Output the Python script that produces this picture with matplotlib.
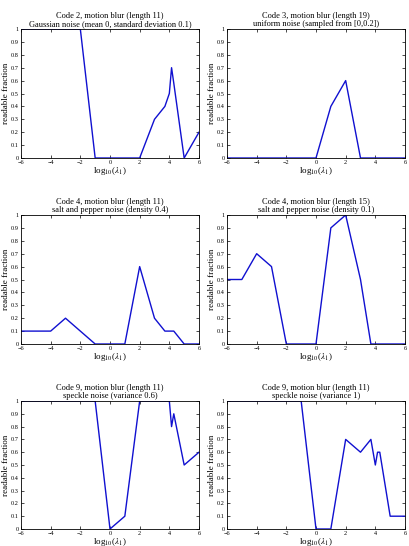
import matplotlib
matplotlib.use('Agg')
import matplotlib.pyplot as plt
import numpy as np

plt.rcParams['font.family'] = ['Liberation Serif', 'DejaVu Serif']
plt.rcParams['mathtext.fontset'] = 'stix'

# log10(lambda_1) sample points
x = [-6, -5, -4, -3, -2, -1, 0, 1, 2, 3, 3.7, 4, 4.15, 4.3, 5, 6]

titles = [
    'Code 2, motion blur (length 11)\nGaussian noise (mean 0, standard deviation 0.1)',
    'Code 3, motion blur (length 19)\nuniform noise (sampled from [0,0.2])',
    'Code 4, motion blur (length 11)\nsalt and pepper noise (density 0.4)',
    'Code 4, motion blur (length 15)\nsalt and pepper noise (density 0.1)',
    'Code 9, motion blur (length 11)\nspeckle noise (variance 0.6)',
    'Code 9, motion blur (length 11)\nspeckle noise (variance 1)',
]

code2_gauss = [1, 1, 1, 1, 1, 0, 0, 0, 0, 0.3, 0.4, 0.5, 0.7, 0.58, 0, 0.2]
code3_unif = [0, 0, 0, 0, 0, 0, 0, 0.4, 0.6, 0, 0, 0, 0, 0, 0, 0]
code4_sp04 = [0.1, 0.1, 0.1, 0.2, 0.1, 0, 0, 0, 0.6, 0.2, 0.1, 0.1, 0.1, 0.1, 0, 0]
code4_sp01 = [0.5, 0.5, 0.7, 0.6, 0, 0, 0, 0.9, 1, 0.5, 0, 0, 0, 0, 0, 0]
code9_sp06 = [1, 1, 1, 1, 1, 1, 0, 0.1, 1, 1, 1, 1, 0.8, 0.9, 0.5, 0.6]
code9_sp1 = [1, 1, 1, 1, 1, 1, 0, 0, 0.7, 0.6, 0.7, 0.5, 0.6, 0.6, 0.1, 0.1]

series = [code2_gauss, code3_unif, code4_sp04, code4_sp01, code9_sp06, code9_sp1]

W, H = 410, 546
fig = plt.figure(figsize=(W / 100, H / 100), dpi=100)

# axes boxes in pixels: left, top, right, bottom
cols = [(21, 199), (227, 405)]
rows = [(29, 158), (215, 344), (401, 529)]

for i in range(6):
    r, c = i // 2, i % 2
    l, rt = cols[c]
    t, b = rows[r]
    ax = fig.add_axes([l / W, 1 - b / H, (rt - l) / W, (b - t) / H])
    ax.plot(x, series[i], color='#1010d0', lw=1.0)
    ax.set_xlim(-6, 6)
    ax.set_ylim(0, 1)
    ax.set_xticks(np.arange(-6, 7, 2))
    ax.set_yticks(np.arange(0, 1.01, 0.1))
    ax.set_yticklabels(['0', '0.1', '0.2', '0.3', '0.4', '0.5', '0.6', '0.7', '0.8', '0.9', '1'])
    ax.tick_params(direction='in', top=True, right=True, length=2, width=0.5,
                   labelsize=4.5, pad=1.5)
    for s in ax.spines.values():
        s.set_linewidth(0.6)
    ax.set_title(titles[i], fontsize=6, pad=2, linespacing=1.0)
    ax.set_xlabel(r'log$_{10}$($\lambda_1$)', fontsize=6.5, labelpad=0)
    ax.set_ylabel('readable fraction', fontsize=6.5, labelpad=1)

fig.savefig('out.png', dpi=100)
